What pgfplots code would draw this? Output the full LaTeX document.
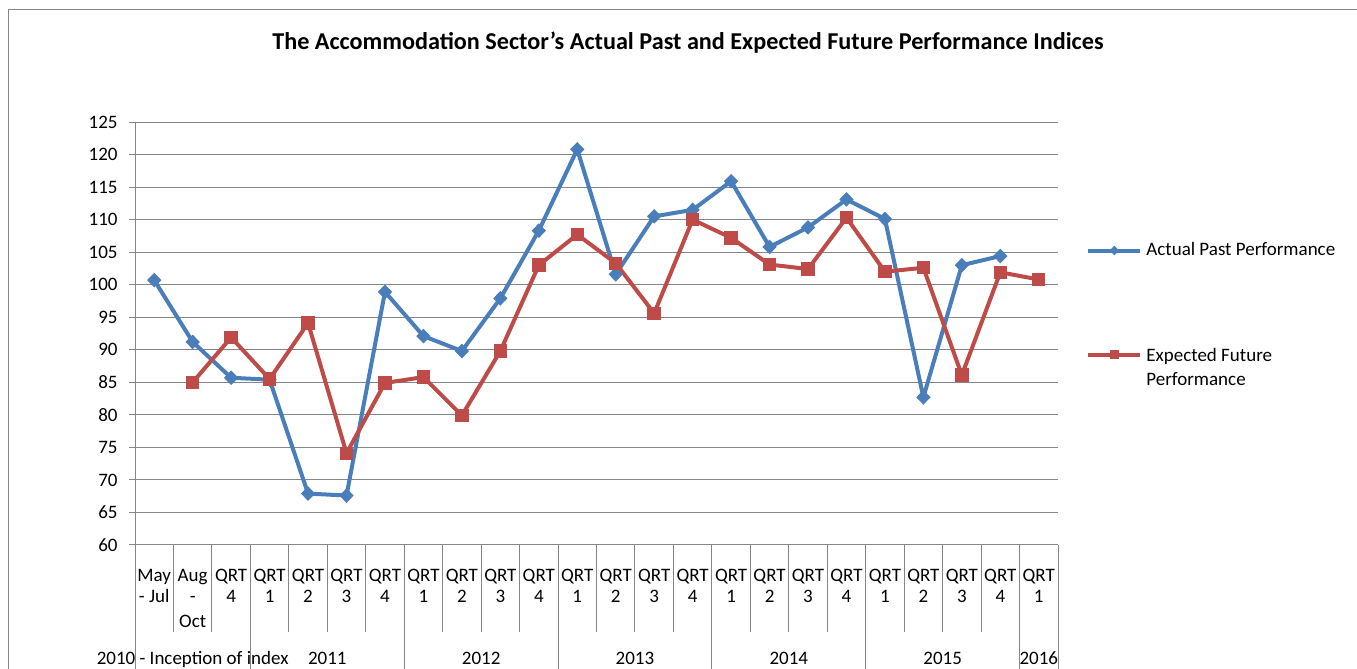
\documentclass[border=0pt]{standalone}
\usepackage{fontspec}
\setmainfont{Carlito}
\usepackage{pgfplots}
\pgfplotsset{compat=1.18}
\definecolor{sblue}{RGB}{74,126,187}
\definecolor{sred}{RGB}{190,75,72}
\definecolor{gridc}{RGB}{134,134,134}
\begin{document}
\begin{tikzpicture}[x=1pt,y=1pt]
\useasboundingbox (0,0) rectangle (678.5,334.5);
\draw[gridc, line width=0.6pt] (4.25,0) -- (4.25,329.75) -- (678.5,329.75);
\node[anchor=base, font=\fontsize{12.1}{14}\selectfont\bfseries] at (344,309.5) {The Accommodation Sector's Actual Past and Expected Future Performance Indices};
\begin{axis}[
  at={(67.5pt,62pt)}, anchor=south west,
  scale only axis, width=461.5pt, height=211.5pt,
  xmin=-0.5, xmax=23.5, ymin=60, ymax=125,
  clip=false,
  axis x line*=bottom, axis y line*=left,
  axis line style={gridc, line width=0.5pt},
  ytick={60,65,...,125},
  ymajorgrids, grid style={gridc, line width=0.5pt},
  tick style={gridc, line width=0.5pt},
  tick align=outside, major tick length=3pt,
  yticklabel style={font=\fontsize{9.5}{11}\selectfont, inner sep=0pt, xshift=-5.5pt},
  /pgf/number format/assume math mode=true,
  xtick={0,...,23},
  xtick style={draw=none},
  xticklabels={{May\\- Jul},{Aug\\-\\[2pt]Oct},{QRT\\4},{QRT\\1},{QRT\\2},{QRT\\3},{QRT\\4},{QRT\\1},{QRT\\2},{QRT\\3},{QRT\\4},{QRT\\1},{QRT\\2},{QRT\\3},{QRT\\4},{QRT\\1},{QRT\\2},{QRT\\3},{QRT\\4},{QRT\\1},{QRT\\2},{QRT\\3},{QRT\\4},{QRT\\1}},
  x tick label style={font=\fontsize{9.5}{10.5}\selectfont, align=center, anchor=north, inner sep=0pt, yshift=-9pt},
  legend cell align=left,
  legend style={at={(1.0303,0.7163)}, anchor=north west, draw=none, fill=none, inner sep=0pt, font=\fontsize{9.5}{12}\selectfont, row sep=43pt, nodes={inner sep=0pt}, /tikz/every odd column/.append style={column sep=2pt}},
  legend image code/.code={\draw[mark repeat=2,mark phase=2,#1,mark size=2pt] plot coordinates {(0pt,0pt) (13pt,0pt) (26pt,0pt)};},
]
\addplot[sblue, line width=2pt, mark=diamond*, mark size=3.3pt, mark options={xscale=1.3, solid, line width=0.5pt}] coordinates {
(0,100.7) (1,91.2) (2,85.7) (3,85.4) (4,67.9) (5,67.6) (6,98.9) (7,92.1) (8,89.8) (9,97.9) (10,108.3)
(11,120.8) (12,101.6) (13,110.5) (14,111.5) (15,115.9) (16,105.8) (17,108.8) (18,113.1) (19,110.1) (20,82.7) (21,103.0) (22,104.4)};
\addlegendentry{Actual Past Performance}
\addplot[sred, line width=2pt, mark=square*, mark size=3.1pt, mark options={solid, line width=0.5pt}] coordinates {
(1,85.0) (2,91.9) (3,85.5) (4,94.1) (5,74.1) (6,84.9) (7,85.8) (8,79.9) (9,89.8) (10,103.0)
(11,107.7) (12,103.3) (13,95.6) (14,110.0) (15,107.2) (16,103.1) (17,102.4) (18,110.3) (19,102.0) (20,102.6) (21,86.1) (22,101.9) (23,100.8)};
\addlegendentry{\begin{tabular}[t]{@{}l@{}}Expected Future\\Performance\end{tabular}}
\pgfplotsinvokeforeach{0.5,1.5,3.5,4.5,5.5,7.5,8.5,9.5,11.5,12.5,13.5,15.5,16.5,17.5,19.5,20.5,21.5}{
  \draw[gridc, line width=0.5pt] (axis cs:#1,60) -- ++(0pt,-43.5pt);
}
\pgfplotsinvokeforeach{-0.5,2.5,6.5,10.5,14.5,18.5,22.5,23.5}{
  \draw[gridc, line width=0.5pt] (axis cs:#1,60) -- ++(0pt,-65pt);
}
\node[anchor=base, font=\fontsize{9.5}{11}\selectfont, yshift=-60pt] at (axis cs:1,60) {2010 - Inception of index};
\node[anchor=base, font=\fontsize{9.5}{11}\selectfont, yshift=-60pt] at (axis cs:4.5,60) {2011};
\node[anchor=base, font=\fontsize{9.5}{11}\selectfont, yshift=-60pt] at (axis cs:8.5,60) {2012};
\node[anchor=base, font=\fontsize{9.5}{11}\selectfont, yshift=-60pt] at (axis cs:12.5,60) {2013};
\node[anchor=base, font=\fontsize{9.5}{11}\selectfont, yshift=-60pt] at (axis cs:16.5,60) {2014};
\node[anchor=base, font=\fontsize{9.5}{11}\selectfont, yshift=-60pt] at (axis cs:20.5,60) {2015};
\node[anchor=base, font=\fontsize{9.5}{11}\selectfont, yshift=-60pt] at (axis cs:23,60) {2016};
\end{axis}
\end{tikzpicture}
\end{document}
